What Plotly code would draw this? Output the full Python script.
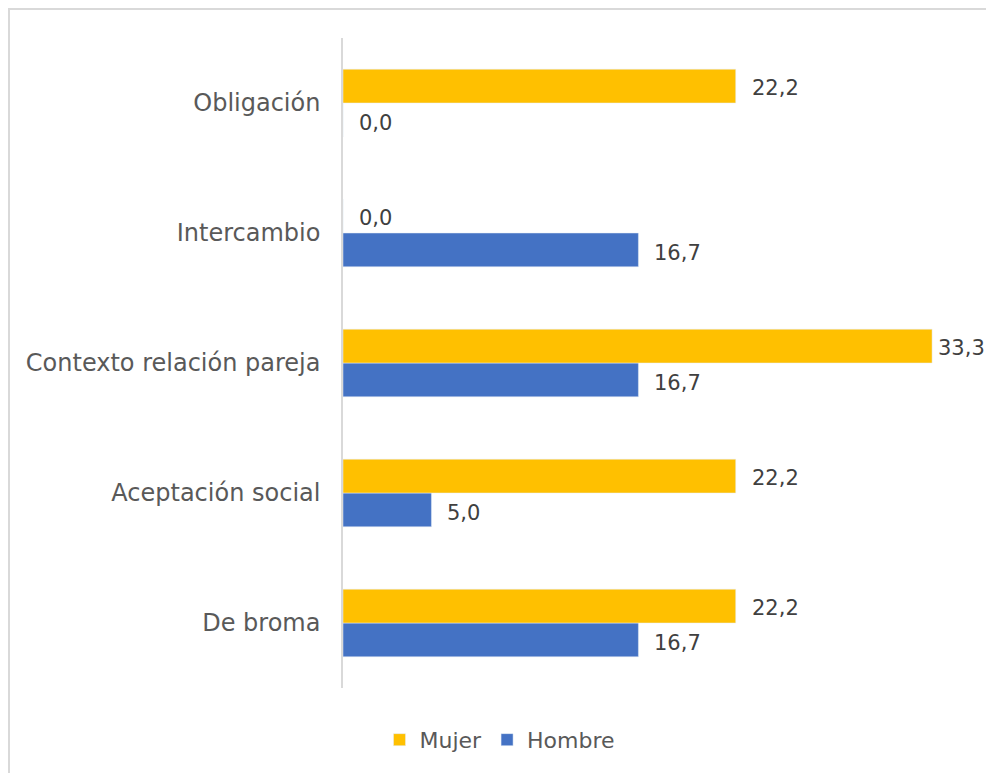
import plotly.graph_objects as go

categories = ["Obligación", "Intercambio", "Contexto relación pareja",
              "Aceptación social", "De broma"]
mujer = [22.2, 0.0, 33.3, 22.2, 22.2]
hombre = [0.0, 16.7, 16.7, 5.0, 16.7]

YELLOW = "#FFC000"
BLUE = "#4472C4"
TEXT = "#595959"
FONT = "DejaVu Sans"

W, H = 986, 773
ML, MR, MT, MB = 343, 36, 38, 83
plot_w = W - ML - MR
plot_h = H - MT - MB

fig = go.Figure()

fig.add_trace(go.Bar(
    y=categories, x=hombre, orientation="h", name="Hombre",
    marker=dict(color=BLUE), legendrank=2,
    hoverinfo="x+name"
))
fig.add_trace(go.Bar(
    y=categories, x=mujer, orientation="h", name="Mujer",
    marker=dict(color=YELLOW), legendrank=1,
    hoverinfo="x+name"
))

# data labels, pushed right of the bar ends
xmax = max(mujer + hombre)
for vals, shift in ((mujer, 15), (hombre, -20)):
    for cat, v in zip(categories, vals):
        fig.add_annotation(
            x=v, y=cat, xref="x", yref="y",
            text=f"{v:.1f}".replace(".", ","),
            showarrow=False, xanchor="left", yanchor="middle",
            xshift=4 if v == xmax else 14, yshift=shift,
            font=dict(family=FONT, size=21, color="#404040")
        )

# light border around the chart area
fig.add_shape(
    type="rect", xref="paper", yref="paper",
    x0=(9 - ML) / plot_w, x1=(W + 20 - ML) / plot_w,
    y0=-(H + 20 - MT - plot_h) / plot_h, y1=(MT + plot_h - 9) / plot_h,
    line=dict(color="#d9d9d9", width=2), fillcolor="rgba(0,0,0,0)"
)

fig.update_layout(
    width=W, height=H,
    margin=dict(l=ML, r=MR, t=MT, b=MB),
    barmode="group", bargap=0.48, bargroupgap=0,
    plot_bgcolor="white", paper_bgcolor="white",
    font=dict(family=FONT, size=20, color=TEXT),
    showlegend=True,
    legend=dict(
        orientation="h", x=(500 - ML) / plot_w, xanchor="center",
        y=-(742 - MT - plot_h) / plot_h, yanchor="middle",
        font=dict(family=FONT, size=22, color=TEXT),
        itemwidth=30, traceorder="normal"
    ),
)

fig.update_xaxes(
    range=[0, plot_w / 17.69], showgrid=False, zeroline=False,
    showticklabels=False, showline=False
)
fig.update_yaxes(
    categoryorder="array", categoryarray=categories[::-1],
    showgrid=False, zeroline=False, showline=True,
    linecolor="#d9d9d9", linewidth=1.5, ticks="",
    ticklabelstandoff=16,
    tickfont=dict(family=FONT, size=24, color=TEXT)
)

fig.write_html(
    "out.html",
    config={"displayModeBar": False},
    post_script="document.body.style.margin='0';"
)
